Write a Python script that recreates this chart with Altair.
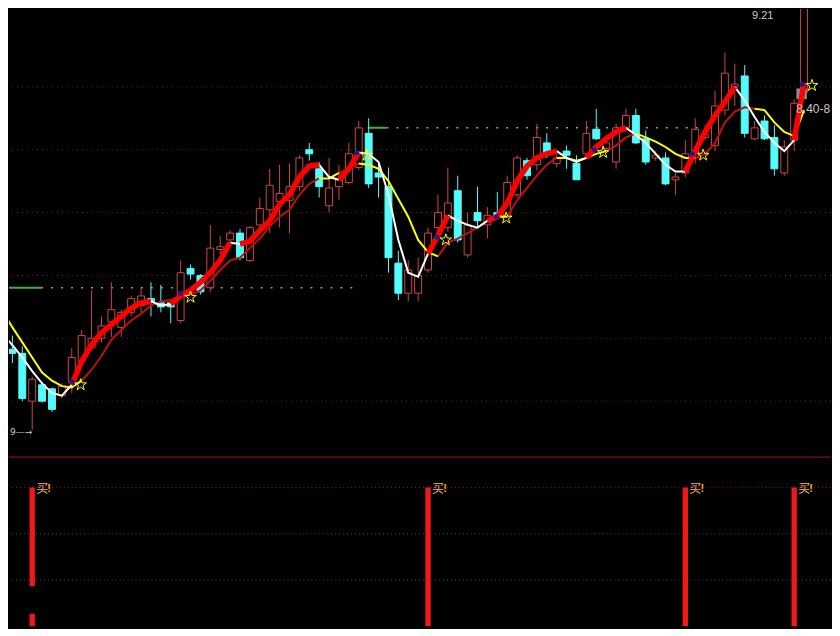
import altair as alt
import pandas as pd

# ---------------- data ----------------
idx = list(range(82))
opens = [6.55, 6.68, 6.65, 6.30, 6.42, 6.39, 6.34, 6.44, 6.59, 6.69,
         6.76, 6.88, 6.84, 6.95, 7.00, 7.05, 7.02, 7.02, 6.89, 7.27,
         7.22, 7.13, 7.41, 7.48, 7.53, 7.33, 7.59, 7.70, 7.76, 7.77,
         7.87, 8.14, 8.00, 7.73, 7.87, 7.90, 8.01, 8.26, 7.97, 7.87,
         7.31, 7.09, 7.09, 7.26, 7.57, 7.57, 7.84, 7.37, 7.68, 7.59,
         7.68, 7.65, 7.81, 8.06, 8.03, 8.19, 8.04, 8.13, 8.04, 8.11,
         8.29, 8.15, 8.05, 8.30, 8.39, 8.22, 8.08, 8.08, 7.92, 7.97,
         8.08, 8.23, 8.17, 8.43, 8.60, 8.68, 8.22, 8.35, 8.23, 7.97,
         8.21, 8.56]
highs = [6.71, 6.78, 6.70, 6.48, 6.44, 6.40, 6.43, 6.69, 6.82, 7.11,
         6.92, 7.17, 6.97, 7.07, 7.13, 7.17, 7.15, 7.04, 7.33, 7.30,
         7.23, 7.59, 7.51, 7.55, 7.56, 7.58, 7.79, 8.00, 8.03, 8.04,
         8.10, 8.19, 8.05, 8.08, 8.03, 8.19, 8.35, 8.37, 8.05, 8.01,
         7.40, 7.33, 7.35, 7.57, 7.81, 8.01, 7.95, 7.68, 7.87, 7.72,
         7.83, 7.95, 8.10, 8.08, 8.33, 8.26, 8.13, 8.17, 8.10, 8.35,
         8.44, 8.24, 8.33, 8.44, 8.44, 8.28, 8.13, 8.12, 7.97, 8.21,
         8.37, 8.32, 8.57, 8.85, 8.77, 8.76, 8.35, 8.39, 8.32, 8.21,
         8.51, 9.21]
lows = [6.51, 6.58, 6.30, 6.09, 6.29, 6.22, 6.32, 6.36, 6.55, 6.67,
        6.73, 6.77, 6.77, 6.92, 6.95, 6.92, 6.95, 6.87, 6.87, 7.19,
        7.08, 7.10, 7.37, 7.46, 7.33, 7.32, 7.57, 7.53, 7.57, 7.53,
        7.84, 8.06, 7.79, 7.68, 7.77, 7.89, 7.99, 7.86, 7.79, 7.24,
        7.04, 7.03, 7.03, 7.24, 7.50, 7.54, 7.46, 7.35, 7.57, 7.49,
        7.64, 7.64, 7.79, 7.92, 7.99, 8.08, 8.01, 8.00, 7.92, 8.08,
        8.21, 8.12, 8.00, 8.27, 8.18, 8.03, 8.06, 7.88, 7.81, 7.94,
        8.04, 8.21, 8.13, 8.39, 8.46, 8.23, 8.21, 8.21, 7.95, 7.95,
        8.13, 8.53]
closes = [6.67, 6.65, 6.32, 6.46, 6.30, 6.24, 6.41, 6.62, 6.78, 6.76,
          6.85, 6.97, 6.95, 7.05, 7.07, 7.03, 6.99, 6.99, 7.24, 7.23,
          7.10, 7.42, 7.43, 7.53, 7.35, 7.57, 7.71, 7.88, 7.82, 7.87,
          8.08, 8.11, 7.87, 7.86, 7.93, 8.11, 8.30, 7.89, 7.94, 7.35,
          7.09, 7.26, 7.22, 7.53, 7.68, 7.75, 7.48, 7.59, 7.62, 7.66,
          7.65, 7.90, 8.08, 7.95, 8.23, 8.11, 8.08, 8.10, 7.92, 8.26,
          8.22, 8.19, 8.30, 8.39, 8.19, 8.05, 8.10, 7.89, 7.94, 8.11,
          8.29, 8.25, 8.46, 8.70, 8.62, 8.26, 8.30, 8.22, 8.00, 8.16,
          8.48, 9.21]

fast_ma = [6.79, 6.71, 6.62, 6.52, 6.43, 6.36, 6.34, 6.42, 6.59, 6.71,
           6.80, 6.86, 6.92, 6.98, 7.02, 7.03, 7.00, 7.01, 7.07, 7.11,
           7.17, 7.24, 7.33, 7.46, 7.45, 7.47, 7.55, 7.62, 7.74, 7.81,
           7.94, 8.02, 8.03, 7.94, 7.92, 8.00, 8.12, 8.11, 8.05, 7.81,
           7.48, 7.24, 7.21, 7.38, 7.51, 7.66, 7.62, 7.59, 7.57, 7.62,
           7.65, 7.75, 7.91, 8.02, 8.08, 8.11, 8.13, 8.08, 8.05, 8.08,
           8.16, 8.22, 8.27, 8.30, 8.25, 8.19, 8.11, 8.03, 7.98, 7.98,
           8.13, 8.27, 8.39, 8.49, 8.60, 8.50, 8.38, 8.27, 8.19, 8.13,
           8.21, 8.63]
slow_ma = [6.96, 6.84, 6.73, 6.62, 6.51, 6.45, 6.41, 6.40, 6.45, 6.53,
           6.63, 6.75, 6.82, 6.89, 6.94, 7.00, 7.03, 7.04, 7.07, 7.08,
           7.11, 7.18, 7.26, 7.33, 7.35, 7.42, 7.49, 7.58, 7.65, 7.70,
           7.81, 7.89, 7.93, 7.93, 7.97, 8.00, 8.04, 8.03, 8.00, 7.91,
           7.78, 7.65, 7.48, 7.39, 7.36, 7.46, 7.49, 7.53, 7.57, 7.62,
           7.65, 7.65, 7.77, 7.86, 7.95, 8.03, 8.08, 8.08, 8.06, 8.08,
           8.11, 8.13, 8.17, 8.23, 8.26, 8.23, 8.20, 8.16, 8.11, 8.08,
           8.08, 8.11, 8.19, 8.34, 8.42, 8.45, 8.44, 8.43, 8.34, 8.27,
           8.24, 8.43]
# colour state of each segment (R = thick red, W = white / D = dark red, Y = yellow)
fast_state = ("WWWWWWW" "RRRRRRRR" "WW" "RRRRRR" "W" "RRRRRRRR" "WW" "RR"
              "WWWWWWW" "RR" "WWWW" "RRRRRRR" "WWW" "RRRR" "WWWWWW" "RRRRR"
              "WWWWWW" "R")
slow_state = ("YYYYYYYY" "DDDDDDDDDDDD" "DDDDDDDDDDDD" "YY" "DD" "YYYYYYYY"
              "DDDDDD" "Y" "DDDDD" "YYYYY" "DDD" "YYYYYY" "DDDDDD" "YYYYY")

grid_levels = [8.60, 8.14, 7.68, 7.22, 6.76, 6.30]
res_level = [7.13, 8.30]
res_start = [0.0, 36.9]
res_mid = [3.9, 38.8]
res_end = [36.1, 70.4]

star_i = [7.9, 19.0, 36.8, 44.8, 50.9, 60.7, 70.8, 81.8]
star_p = [6.42, 7.06, 8.10, 7.48, 7.64, 8.12, 8.10, 8.61]
dot_i = [7.1, 18.0, 35.8, 43.9, 49.9, 59.8, 69.7, 80.8]
dot_p = [6.44, 7.09, 8.12, 7.50, 7.65, 8.14, 8.11, 8.62]
box_i = [80.75]
box_p = [8.55]

high_label = ["9.21"]
high_label_i = [77.9]
high_label_p = [9.21]
target_label = ["8.40-8"]
target_label_i = [80.2]
target_label_p = [8.44]
low_label = ["9\u2014\u2192"]
low_label_i = [3.0]
low_label_p = [6.09]

buy_i = [3, 43, 69, 80]
buy_text = ["\u4e70", "\u4e70", "\u4e70", "\u4e70"]
bar_i = [3, 3, 43, 69, 80]
bar_lo = [0.0, 0.29, 0.0, 0.0, 0.0]
bar_hi = [0.09, 1.0, 1.0, 1.0, 1.0]
sub_grid = [0.667, 0.333]
sub_top = [1.0]
sub_sep = [1.22]

# ---------------- styling ----------------
UP = "#d04444"
DN = "#54fcfc"
STAR = ("M0,-1L0.2245,-0.309L0.9511,-0.309L0.3633,0.118L0.5878,0.809L0,0.382"
        "L-0.5878,0.809L-0.3633,0.118L-0.9511,-0.309L-0.2245,-0.309Z")
X = alt.Scale(domain=[0.655, 83.72], nice=False, zero=False)
YP = alt.Scale(domain=[5.9012, 9.1716], nice=False, zero=False)
YS = alt.Scale(domain=[-0.0144, 1.223], nice=False, zero=False)


def xq(f):
    return alt.X(f, type="quantitative", scale=X, axis=None)


def yp(f):
    return alt.Y(f, type="quantitative", scale=YP, axis=None)


def ys(f):
    return alt.Y(f, type="quantitative", scale=YS, axis=None)


def run_table(values, states):
    rows = []
    run, prev = -1, None
    n = min(len(states), len(values) - 1)
    for s in range(n):
        st = states[s]
        if st != prev:
            run += 1
            rows.append({"i": s, "v": values[s], "run": run, "k": st})
            prev = st
        rows.append({"i": s + 1, "v": values[s + 1], "run": run, "k": st})
    return pd.DataFrame(rows)


n = min(len(idx), len(opens), len(highs), len(lows), len(closes))
cdf = pd.DataFrame({"i": idx[:n], "o": opens[:n], "h": highs[:n], "l": lows[:n], "c": closes[:n]})
cdf["top"] = cdf[["o", "c"]].max(axis=1)
cdf["bot"] = cdf[["o", "c"]].min(axis=1)
cdf["dir"] = ["U" if c >= o else "D" for o, c in zip(cdf["o"], cdf["c"])]
cdf["x1"] = cdf["i"] - 0.35
cdf["x2"] = cdf["i"] + 0.35
up_df = cdf[cdf["dir"] == "U"].reset_index(drop=True)
dn_df = cdf[cdf["dir"] == "D"].reset_index(drop=True)

fast_df = run_table(fast_ma, fast_state)
slow_df = run_table(slow_ma, slow_state)

grid = alt.Chart(pd.DataFrame({"p": grid_levels})).mark_rule(
    color="#7a2020", strokeDash=[1, 4], strokeWidth=1
).encode(y=yp("p"))

res_df = pd.DataFrame({"p": res_level, "a": res_start, "b": res_mid, "e": res_end})
res_green = alt.Chart(res_df).mark_rule(color="#3cb43c", strokeWidth=2, clip=True).encode(
    x=xq("a"), x2=alt.X2("b"), y=yp("p"))
res_dots = alt.Chart(res_df).mark_rule(color="#9a9a9a", strokeWidth=1.5,
                                       strokeDash=[2, 8], clip=True).encode(
    x=xq("b"), x2=alt.X2("e"), y=yp("p"))


def wick_layer(df, col):
    return alt.Chart(df).mark_rule(strokeWidth=1, color=col, clip=True).encode(
        x=xq("i"), y=yp("l"), y2=alt.Y2("h"))


def body_layer(df, fill, stroke):
    return alt.Chart(df).mark_rect(fill=fill, stroke=stroke, strokeWidth=1, clip=True).encode(
        x=xq("x1"), x2=alt.X2("x2"), y=yp("bot"), y2=alt.Y2("top"))


box = alt.Chart(pd.DataFrame({"i": box_i, "p": box_p})).mark_point(
    shape="square", filled=True, color="#8c8c8c", size=110, opacity=1, clip=True
).encode(x=xq("i"), y=yp("p"))


def line_layer(df, kind, color, width):
    sub = df[df["k"] == kind].reset_index(drop=True)
    return alt.Chart(sub).mark_line(color=color, strokeWidth=width, clip=True).encode(
        x=xq("i"), y=yp("v"), detail=alt.Detail("run", type="nominal"))


slow_red = line_layer(slow_df, "D", "#c01010", 2)
slow_yel = line_layer(slow_df, "Y", "#ffff00", 2)
fast_white = line_layer(fast_df, "W", "#ffffff", 2)
fast_red = line_layer(fast_df, "R", "#ff0000", 5.5)

dots = alt.Chart(pd.DataFrame({"i": dot_i, "p": dot_p})).mark_point(
    shape="circle", filled=True, color="#1c1c90", size=26, opacity=1, clip=True
).encode(x=xq("i"), y=yp("p"))
stars = alt.Chart(pd.DataFrame({"i": star_i, "p": star_p})).mark_point(
    shape=STAR, filled=False, color="#ffff00", size=150, strokeWidth=1, opacity=1, clip=True
).encode(x=xq("i"), y=yp("p"))

t_high = alt.Chart(pd.DataFrame({"i": high_label_i, "p": high_label_p, "t": high_label})).mark_text(
    align="right", baseline="top", dy=7, font="Liberation Sans", fontSize=11,
    color="#c8c8c8", clip=True).encode(x=xq("i"), y=yp("p"), text=alt.Text("t", type="nominal"))
t_target = alt.Chart(pd.DataFrame({"i": target_label_i, "p": target_label_p, "t": target_label})).mark_text(
    align="left", baseline="middle", font="Liberation Sans", fontSize=12,
    color="#c8c8c8").encode(x=xq("i"), y=yp("p"), text=alt.Text("t", type="nominal"))
t_low = alt.Chart(pd.DataFrame({"i": low_label_i, "p": low_label_p, "t": low_label})).mark_text(
    align="right", baseline="middle", dy=2, font="DejaVu Sans", fontSize=9,
    color="#c8c8c8").encode(x=xq("i"), y=yp("p"), text=alt.Text("t", type="nominal"))

upper = alt.layer(
    grid, res_dots, res_green,
    wick_layer(up_df, UP), wick_layer(dn_df, DN),
    body_layer(up_df, "#000000", UP), body_layer(dn_df, DN, DN),
    box, slow_red, slow_yel, fast_white, fast_red, dots, stars,
    t_high, t_target, t_low
).properties(width=824, height=448)

# ---------------- lower signal panel ----------------
sep = alt.Chart(pd.DataFrame({"v": sub_sep})).mark_rule(color="#a01818", strokeWidth=1).encode(y=ys("v"))
top_grid = alt.Chart(pd.DataFrame({"v": sub_top})).mark_rule(
    color="#8b1a1a", strokeDash=[1, 3], strokeWidth=1).encode(y=ys("v"))
mid_grid = alt.Chart(pd.DataFrame({"v": sub_grid})).mark_rule(
    color="#4a4a4a", strokeDash=[1, 3], strokeWidth=1).encode(y=ys("v"))
bar_df = pd.DataFrame({"i": bar_i, "lo": bar_lo, "hi": bar_hi})
bar_df["x1"] = bar_df["i"] - 0.27
bar_df["x2"] = bar_df["i"] + 0.27
bars = alt.Chart(bar_df).mark_rect(color="#f01818", clip=True).encode(
    x=xq("x1"), x2=alt.X2("x2"), y=ys("lo"), y2=alt.Y2("hi"))
buy_df = pd.DataFrame({"i": buy_i, "v": [1.0, 1.0, 1.0, 1.0], "t": buy_text,
                       "e": ["!", "!", "!", "!"]})
buy_txt = alt.Chart(buy_df).mark_text(
    align="center", baseline="middle", dx=10, dy=1, font="Noto Sans CJK SC",
    fontSize=12, color="#f0b060").encode(x=xq("i"), y=ys("v"), text=alt.Text("t", type="nominal"))
buy_exc = alt.Chart(buy_df).mark_text(
    align="center", baseline="middle", dx=17, dy=1, font="Liberation Sans",
    fontSize=11, fontWeight="bold", color="#ffb000").encode(
    x=xq("i"), y=ys("v"), text=alt.Text("e", type="nominal"))

lower = alt.layer(sep, top_grid, mid_grid, bars, buy_txt, buy_exc).properties(width=824, height=172)

chart = alt.vconcat(upper, lower, spacing=0).properties(
    padding=0, background="#000000"
).configure_view(strokeWidth=0)

chart.save("out.html", embed_options={"renderer": "svg", "actions": False})
